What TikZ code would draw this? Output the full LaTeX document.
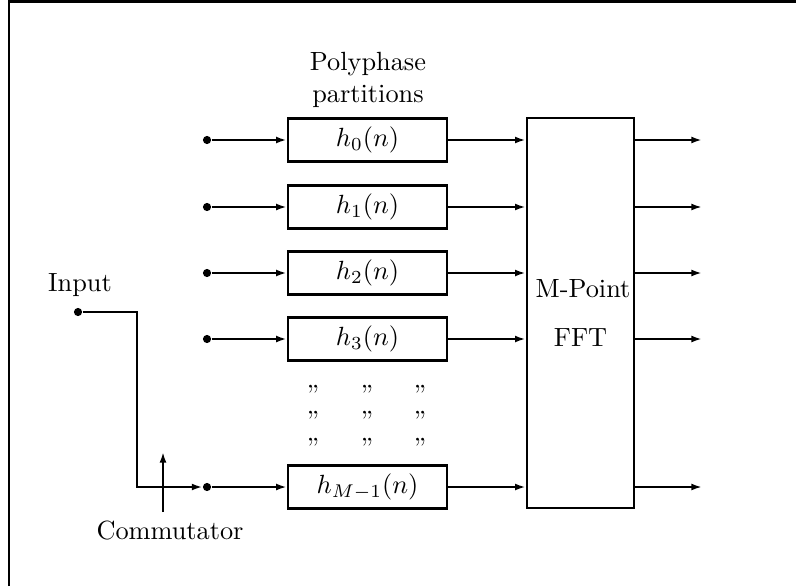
\documentclass[tikz,border=0pt]{standalone}
\usetikzlibrary{arrows.meta}
\begin{document}
\begin{tikzpicture}[x=0.38pt,y=-0.38pt,
  sig/.style={-{Latex[length=4pt,width=2.6pt]}, line width=0.75pt},
  sigthick/.style={sig, line width=1.1pt},
  filt/.style={draw, line width=1pt, minimum width=60.4pt, minimum height=16.3pt, inner sep=0pt},
  dotn/.style={circle, fill, inner sep=0pt, minimum size=3.1pt},
  quot/.style={inner sep=0pt}]
\useasboundingbox (0,0) rectangle (796,586);
\draw[line width=1.1pt] (9,586) -- (9,1.5) -- (796,1.5);

% filters
\node[filt] (h0) at (367.5,140) {$h_0(n)$};
\node[filt] (h1) at (367.5,207) {$h_1(n)$};
\node[filt] (h2) at (367.5,273) {$h_2(n)$};
\node[filt] (h3) at (367.5,339) {$h_3(n)$};
\node[filt] (hM) at (367.5,487) {$h_{M-1}(n)$};

% FFT block
\node[draw, line width=1pt, minimum width=40.7pt, minimum height=148.2pt, inner sep=0pt] (fft) at (580.5,313) {};
\node (mp) at (583,289) {M-Point};
\node (ff) at (580.5,338) {FFT};

\node[align=center] (pp) at (368,80) {Polyphase\\partitions};

% input dots
\node[dotn] (d0) at (207,140) {};
\node[dotn] (d1) at (207,207) {};
\node[dotn] (d2) at (207,273) {};
\node[dotn] (d3) at (207,339) {};
\node[dotn] (dM) at (207,487) {};

\draw[sigthick] (d0) -- (h0);
\draw[sig] (d1) -- (h1);
\draw[sigthick] (d2) -- (h2);
\draw[sigthick] (d3) -- (h3);
\draw[sig] (dM) -- (hM);

\draw[sigthick] (h0.east) -- (h0.east -| fft.west);
\draw[sig] (h1.east) -- (h1.east -| fft.west);
\draw[sigthick] (h2.east) -- (h2.east -| fft.west);
\draw[sigthick] (h3.east) -- (h3.east -| fft.west);
\draw[sig] (hM.east) -- (hM.east -| fft.west);

% outputs
\coordinate (o0) at (702,140);
\coordinate (o1) at (702,207);
\coordinate (o2) at (702,273);
\coordinate (o3) at (702,339);
\coordinate (oM) at (702,487);
\draw[sigthick] (fft.east |- o0) -- (o0);
\draw[sig] (fft.east |- o1) -- (o1);
\draw[sigthick] (fft.east |- o2) -- (o2);
\draw[sigthick] (fft.east |- o3) -- (o3);
\draw[sig] (fft.east |- oM) -- (oM);

% input and commutator
\node (inlabel) at (80,285) {Input};
\node[dotn] (in) at (78,312) {};
\coordinate (c1) at (137,312);
\coordinate (c2) at (137,487);
\draw[sig] (in) -- (c1) -- (c2) -- (dM);

\node (comm) at (170,531) {Commutator};
\coordinate (ct) at (163,452);
\draw[sig] (comm.north -| ct) -- (ct);

% continuation marks
\foreach \yy [count=\i] in {394,420,447}{
  \node[quot] (qa\i) at (313,\yy) {''};
  \node[quot] (qb\i) at (367,\yy) {''};
  \node[quot] (qc\i) at (420,\yy) {''};
}
\end{tikzpicture}
\end{document}
